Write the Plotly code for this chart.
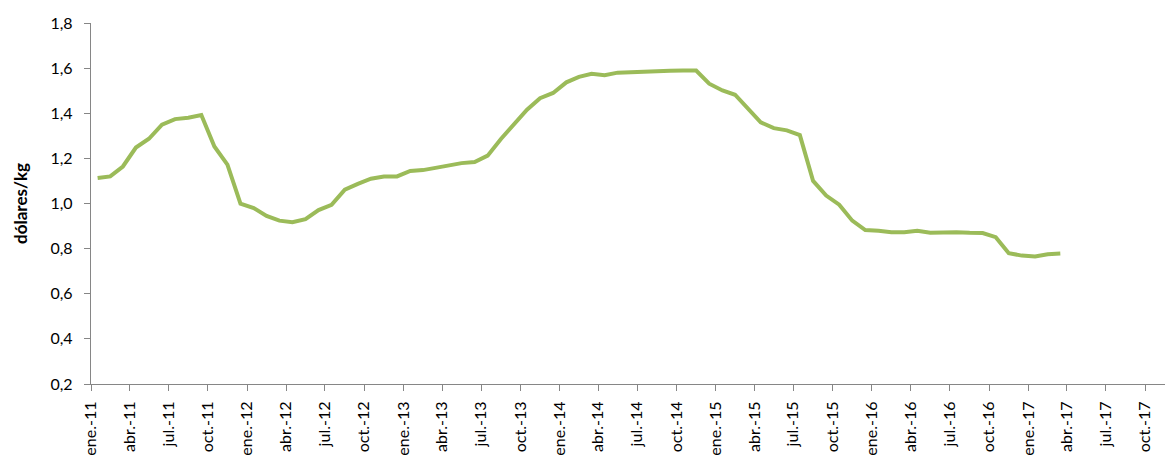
import plotly.graph_objects as go

# Monthly data, ene-2011 .. mar-2017
months = [f"{y}-{m:02d}-01" for y in range(2011, 2018) for m in range(1, 13)][:75]
precio = [
    1.113, 1.120, 1.164, 1.248, 1.287, 1.349, 1.374, 1.380, 1.392, 1.253, 1.172, 0.999,
    0.980, 0.945, 0.924, 0.917, 0.931, 0.971, 0.994, 1.061, 1.087, 1.110, 1.120, 1.120,
    1.144, 1.148, 1.158, 1.168, 1.179, 1.184, 1.212, 1.286, 1.354, 1.416, 1.467, 1.490,
    1.537, 1.561, 1.575, 1.569, 1.580, 1.583, 1.584, 1.586, 1.588, 1.590, 1.589, 1.531,
    1.501, 1.482, 1.423, 1.360, 1.334, 1.324, 1.303, 1.100, 1.035, 0.995, 0.924, 0.882,
    0.879, 0.873, 0.873, 0.879, 0.870, 0.873, 0.873, 0.870, 0.869, 0.851, 0.780, 0.769,
    0.765, 0.775, 0.778,
]

mes_abbr = {1: "ene.", 4: "abr.", 7: "jul.", 10: "oct."}
tick_vals = [f"{y}-{m:02d}-01" for y in range(2011, 2018) for m in (1, 4, 7, 10)]
tick_text = [f"{mes_abbr[m]}-{str(y)[2:]}" for y in range(2011, 2018) for m in (1, 4, 7, 10)]
y_ticks = [0.2, 0.4, 0.6, 0.8, 1.0, 1.2, 1.4, 1.6, 1.8]

fig = go.Figure()
fig.add_trace(go.Scatter(
    x=months, y=precio, mode="lines",
    xperiod="M1", xperiodalignment="middle",
    line=dict(color="#9BBB59", width=4),
    showlegend=False,
))

axis_color = "#868686"
fig.update_layout(
    width=1165, height=448,
    margin=dict(l=83, r=0, t=15, b=72, autoexpand=False),
    paper_bgcolor="white", plot_bgcolor="white",
    separators=",.",
    font=dict(family="Lato, Open Sans, sans-serif", size=16, color="#000000"),
    xaxis=dict(
        type="date",
        range=["2011-01-01", "2017-12-05"],
        tickmode="array", tickvals=tick_vals, ticktext=tick_text,
        tickangle=-90,
        showline=True, linecolor=axis_color, linewidth=1.3,
        ticks="outside", ticklen=6, tickcolor=axis_color, tickwidth=1.3,
        ticklabelstandoff=4,
        showgrid=False, zeroline=False, automargin=False,
        tickfont=dict(size=16),
    ),
    yaxis=dict(
        range=[0.2, 1.8],
        tickmode="array", tickvals=y_ticks, tickformat=".1f",
        showline=True, linecolor=axis_color, linewidth=1.3,
        ticks="outside", ticklen=6, tickcolor=axis_color, tickwidth=1.3,
        ticklabelstandoff=8,
        showgrid=False, zeroline=False, automargin=False,
        tickfont=dict(size=16),
        title=dict(text="<b>dólares/kg</b>", font=dict(size=17), standoff=18),
    ),
)

fig.write_html("out.html")
